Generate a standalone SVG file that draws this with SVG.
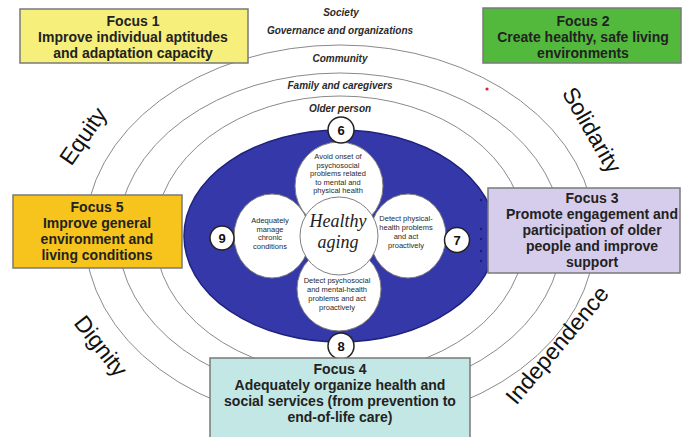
<svg xmlns="http://www.w3.org/2000/svg" width="683" height="437" viewBox="0 0 683 437">
<style>
.ring{fill:none;stroke:#8a8a8a;stroke-width:1}
.box{stroke:#7a7a7a;stroke-width:1.5}
.bt{font-family:"Liberation Sans",Arial,sans-serif;font-weight:bold;font-size:14px;fill:#222;text-anchor:middle}
.lvl{font-family:"Liberation Sans",Arial,sans-serif;font-weight:bold;font-style:italic;font-size:10px;fill:#2a2a2a;text-anchor:middle}
.val{font-family:"Liberation Sans",Arial,sans-serif;font-size:23px;fill:#111;text-anchor:middle}
.pf{fill:#fff}
.po{fill:none;stroke:#808080;stroke-width:1}
.pt{font-family:"Liberation Sans",Arial,sans-serif;font-size:7.5px;fill:#2a2a2a;text-anchor:middle}
.num{fill:#fff;stroke:#222;stroke-width:1.5}
.nt{font-family:"Liberation Sans",Arial,sans-serif;font-weight:bold;font-size:13px;fill:#111;text-anchor:middle}
.ha{font-family:"Liberation Serif","DejaVu Serif",serif;font-style:italic;font-size:18px;fill:#222;text-anchor:middle}
</style>
<rect width="683" height="437" fill="#fff"/>

<!-- concentric levels -->
<g id="rings">
  <ellipse class="ring" cx="340" cy="235" rx="255" ry="190"/>
  <ellipse class="ring" cx="340" cy="235" rx="222" ry="162"/>
  <ellipse class="ring" cx="340" cy="235" rx="185" ry="139"/>
</g>

<g id="level-labels">
  <text class="lvl" x="341" y="16">Society</text>
  <text class="lvl" x="340" y="34">Governance and organizations</text>
  <text class="lvl" x="340" y="62">Community</text>
  <text class="lvl" x="340" y="89">Family and caregivers</text>
  <text class="lvl" x="340" y="112">Older person</text>
</g>

<!-- older person core -->
<g id="core">
  <ellipse cx="340" cy="236" rx="156" ry="106" fill="#3438a8" stroke="#20237e" stroke-width="1.5"/>
  <g fill="#1c1f6a">
    <circle cx="481" cy="200" r="1.2"/>
    <circle cx="481" cy="229" r="1.2"/>
    <circle cx="481" cy="239" r="1.2"/>
    <circle cx="481" cy="251" r="1.2"/>
    <circle cx="481" cy="261" r="1.2"/>
  </g>
</g>

<!-- flower of care objectives -->
<g id="petals">
  <circle class="pf" cx="339" cy="186" r="44"/>
  <circle class="pf" cx="339" cy="289" r="42"/>
  <ellipse class="pf" cx="272" cy="236" rx="38" ry="42"/>
  <ellipse class="pf" cx="408" cy="236" rx="38" ry="42"/>
  <circle class="po" cx="339" cy="186" r="44"/>
  <circle class="po" cx="339" cy="289" r="42"/>
  <ellipse class="po" cx="272" cy="236" rx="38" ry="42"/>
  <ellipse class="po" cx="408" cy="236" rx="38" ry="42"/>
</g>

<g id="petal-top">
  <text class="pt" x="338" y="159">Avoid onset of</text>
  <text class="pt" x="338" y="167.5">psychosocial</text>
  <text class="pt" x="338" y="176">problems related</text>
  <text class="pt" x="338" y="184.5">to mental and</text>
  <text class="pt" x="338" y="193">physical health</text>
</g>
<g id="petal-left">
  <text class="pt" x="270" y="223">Adequately</text>
  <text class="pt" x="270" y="231.5">manage</text>
  <text class="pt" x="270" y="240">chronic</text>
  <text class="pt" x="270" y="248.5">conditions</text>
</g>
<g id="petal-right">
  <text class="pt" x="406" y="221">Detect physical-</text>
  <text class="pt" x="406" y="229.5">health problems</text>
  <text class="pt" x="406" y="238.5">and act</text>
  <text class="pt" x="406" y="247.5">proactively</text>
</g>
<g id="petal-bottom">
  <text class="pt" x="337" y="283">Detect psychosocial</text>
  <text class="pt" x="337" y="292">and mental-health</text>
  <text class="pt" x="337" y="301">problems and act</text>
  <text class="pt" x="337" y="310">proactively</text>
</g>

<g id="healthy-aging">
  <circle cx="339" cy="236" r="39" fill="#fff" stroke="#808080" stroke-width="1"/>
  <text class="ha" x="338" y="227">Healthy</text>
  <text class="ha" x="338" y="248">aging</text>
</g>

<!-- numbered markers -->
<g id="n6"><circle class="num" cx="341" cy="130" r="13"/><text class="nt" x="341" y="135">6</text></g>
<g id="n7"><circle class="num" cx="457" cy="240" r="12.5"/><text class="nt" x="457" y="245">7</text></g>
<g id="n8"><circle class="num" cx="341" cy="346" r="13"/><text class="nt" x="341" y="351">8</text></g>
<g id="n9"><circle class="num" cx="222" cy="238" r="12"/><text class="nt" x="222" y="243">9</text></g>

<!-- guiding values -->
<g id="values">
  <text class="val" transform="translate(83,136) rotate(-55)" y="8">Equity</text>
  <text class="val" transform="translate(592,130) rotate(60)" y="8">Solidarity</text>
  <text class="val" transform="translate(101,346) rotate(52)" y="8">Dignity</text>
  <text class="val" transform="translate(557,345) rotate(-50)" y="8">Independence</text>
</g>

<circle cx="487" cy="89" r="1.6" fill="#e0202a"/>

<!-- focus areas -->
<g id="focus1">
  <rect class="box" x="20" y="9" width="228" height="54" fill="#f6ef7c"/>
  <text class="bt" x="133" y="26">Focus 1</text>
  <text class="bt" x="133" y="42">Improve individual aptitudes</text>
  <text class="bt" x="133" y="58">and adaptation capacity</text>
</g>
<g id="focus2">
  <rect class="box" x="483" y="8" width="198" height="55" fill="#52b93c"/>
  <text class="bt" x="583" y="26">Focus 2</text>
  <text class="bt" x="583" y="42">Create healthy, safe living</text>
  <text class="bt" x="583" y="58">environments</text>
</g>
<g id="focus3">
  <rect class="box" x="488" y="188" width="192" height="85" fill="#d6cdec"/>
  <text class="bt" x="592" y="203">Focus 3</text>
  <text class="bt" x="592" y="219">Promote engagement and</text>
  <text class="bt" x="592" y="235">participation of older</text>
  <text class="bt" x="592" y="251">people and improve</text>
  <text class="bt" x="592" y="267">support</text>
</g>
<g id="focus5">
  <rect class="box" x="13" y="195" width="169" height="73" fill="#f6c41c"/>
  <text class="bt" x="97" y="212">Focus 5</text>
  <text class="bt" x="97" y="228">Improve general</text>
  <text class="bt" x="97" y="244">environment and</text>
  <text class="bt" x="97" y="260">living conditions</text>
</g>
<g id="focus4">
  <rect class="box" x="210" y="358" width="260" height="90" fill="#c2e7e4"/>
  <text class="bt" x="340" y="374">Focus 4</text>
  <text class="bt" x="340" y="390">Adequately organize health and</text>
  <text class="bt" x="340" y="406">social services (from prevention to</text>
  <text class="bt" x="340" y="422">end-of-life care)</text>
</g>
</svg>
